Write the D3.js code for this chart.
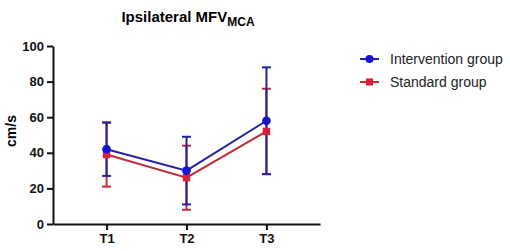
<!DOCTYPE html>
<html>
<head>
<meta charset="utf-8">
<script src="https://cdn.jsdelivr.net/npm/d3@7"></script>
<style>
  body { margin: 0; background: #fff; }
  text { font-family: Arial, "Liberation Sans", sans-serif; }
</style>
</head>
<body>
<div id="container"></div>
<script>

// data
const timepoints = ['T1', 'T2', 'T3'];
const interventionMean = [42, 30, 58];
const interventionLow  = [27, 11, 28];
const interventionHigh = [57, 49, 88];
const standardMean = [39, 26, 52];
const standardLow  = [21, 8, 28];
const standardHigh = [57, 44, 76];
const yTicks = [0, 20, 40, 60, 80, 100];
const groups = ['Intervention group', 'Standard group'];

const width = 510, height = 251;

const x = d3.scalePoint()
    .domain(timepoints)
    .range([53, 320])
    .padding(0.67);

const y = d3.scaleLinear()
    .domain([0, 100])
    .range([224, 46]);

const series = [
  { name: groups[1], mean: standardMean, lo: standardLow, hi: standardHigh,
    line: '#c42a36', mark: '#d9203a', shape: 'square' },
  { name: groups[0], mean: interventionMean, lo: interventionLow, hi: interventionHigh,
    line: '#2222a0', mark: '#1414d2', shape: 'circle' }
];

const svg = d3.select('#container').append('svg')
    .attr('width', width)
    .attr('height', height);

// title with subscript
const title = svg.append('text')
    .attr('x', 188)
    .attr('y', 22)
    .attr('text-anchor', 'middle')
    .attr('font-size', 15)
    .attr('font-weight', 'bold');
title.append('tspan').text('Ipsilateral MFV');
title.append('tspan').attr('font-size', 12).attr('dy', 4).text('MCA');

// axes
const yAxis = svg.append('g')
    .attr('transform', 'translate(53,0)')
    .call(d3.axisLeft(y).tickValues(yTicks).tickSize(6).tickSizeOuter(0).tickPadding(3));
yAxis.selectAll('text').attr('font-size', 13).attr('font-weight', 'bold').attr('fill', '#111');

const xAxis = svg.append('g')
    .attr('transform', 'translate(0,224)')
    .call(d3.axisBottom(x).tickSize(6).tickSizeOuter(0).tickPadding(4));
xAxis.selectAll('text').attr('font-size', 13).attr('font-weight', 'bold').attr('fill', '#111');

svg.selectAll('.domain, .tick line').attr('stroke', '#111').attr('stroke-width', 2);

svg.append('text')
    .attr('transform', 'translate(16,131) rotate(-90)')
    .attr('text-anchor', 'middle')
    .attr('font-size', 14)
    .attr('font-weight', 'bold')
    .text('cm/s');

const line = d3.line()
    .x((d, i) => x(timepoints[i]))
    .y(d => y(d));

series.forEach(s => {
  const g = svg.append('g');
  // error bars
  timepoints.forEach((t, i) => {
    const cx = x(t);
    g.append('line')
        .attr('x1', cx).attr('x2', cx)
        .attr('y1', y(s.lo[i])).attr('y2', y(s.hi[i]))
        .attr('stroke', s.line).attr('stroke-width', 2);
    [s.lo[i], s.hi[i]].forEach(v => {
      g.append('line')
          .attr('x1', cx - 4.5).attr('x2', cx + 4.5)
          .attr('y1', y(v)).attr('y2', y(v))
          .attr('stroke', s.line).attr('stroke-width', 2);
    });
  });
});

series.forEach(s => {
  const g = svg.append('g');
  g.append('path')
      .datum(s.mean)
      .attr('d', line)
      .attr('fill', 'none')
      .attr('stroke', s.line)
      .attr('stroke-width', 2);
  g.selectAll('.pt').data(s.mean).enter().append('path')
      .attr('transform', (d, i) => `translate(${x(timepoints[i])},${y(d)})`)
      .attr('d', d3.symbol().type(s.shape === 'circle' ? d3.symbolCircle : d3.symbolSquare).size(s.shape === 'circle' ? 60 : 55))
      .attr('fill', s.mark);
});

// legend
const legend = svg.append('g');
[series[1], series[0]].forEach((s, i) => {
  const ly = 59 + i * 23;
  legend.append('line')
      .attr('x1', 360).attr('x2', 379)
      .attr('y1', ly).attr('y2', ly)
      .attr('stroke', s.line).attr('stroke-width', 2);
  legend.append('path')
      .attr('transform', `translate(369.5,${ly})`)
      .attr('d', d3.symbol().type(s.shape === 'circle' ? d3.symbolCircle : d3.symbolSquare).size(50))
      .attr('fill', s.mark);
  legend.append('text')
      .attr('x', 390)
      .attr('y', ly)
      .attr('dy', '0.35em')
      .attr('font-size', 14)
      .attr('fill', '#222')
      .text(s.name);
});

</script>
</body>
</html>
